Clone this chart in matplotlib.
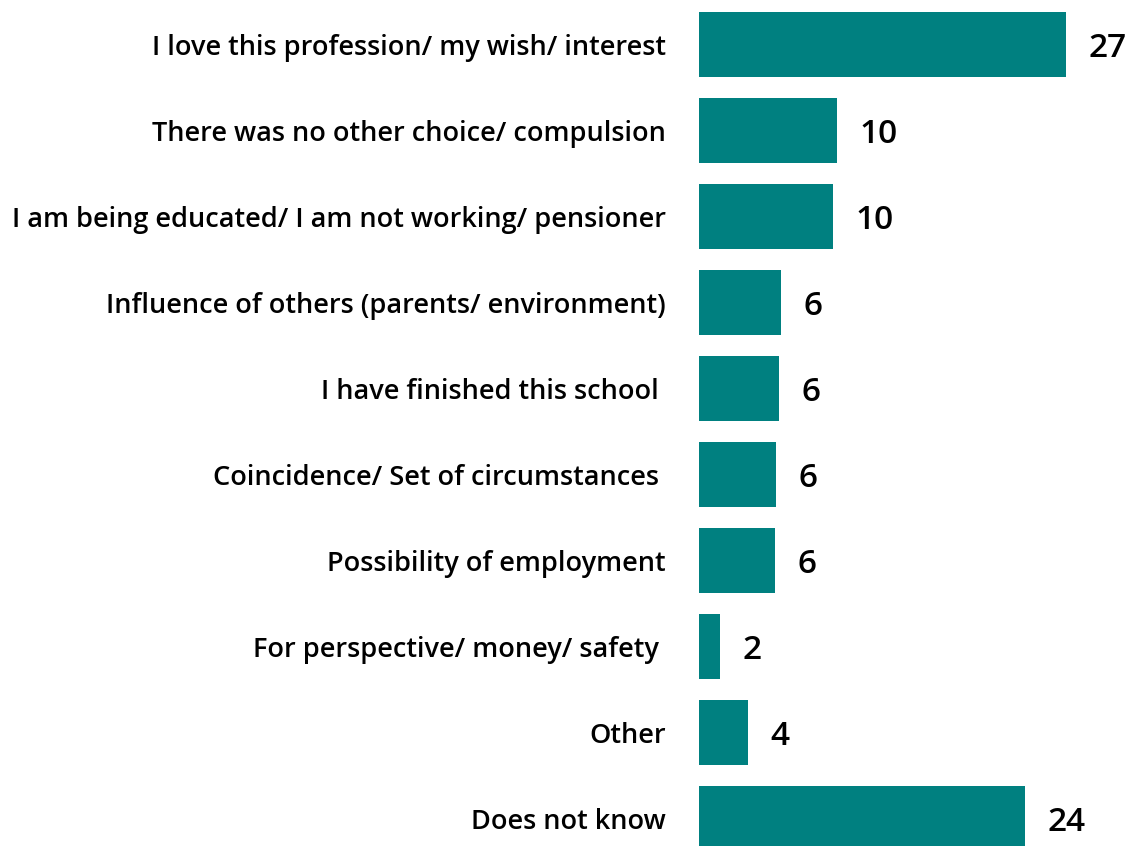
import matplotlib.pyplot as plt

categories = [
    "I love this profession/ my wish/ interest",
    "There was no other choice/ compulsion",
    "I am being educated/ I am not working/ pensioner",
    "Influence of others (parents/ environment)",
    "I have finished this school ",
    "Coincidence/ Set of circumstances ",
    "Possibility of employment",
    "For perspective/ money/ safety ",
    "Other",
    "Does not know",
]
values = [27.0, 10.15, 9.85, 6.03, 5.88, 5.66, 5.59, 1.54, 3.6, 24.0]
labels = ["27", "10", "10", "6", "6", "6", "6", "2", "4", "24"]

plt.rcParams['font.family'] = ['Open Sans', 'DejaVu Sans']

fig = plt.figure(figsize=(11.29, 8.46), dpi=100)
ax = fig.add_axes([699 / 1129, 0, 430 / 1129, 1])

y = range(len(categories))
ax.barh(y, values, height=0.756, color="#008080")

for i, (v, lab) in enumerate(zip(values, labels)):
    ax.annotate(lab, (v, i), xytext=(16, -3), textcoords="offset points",
                va="center", ha="left", fontsize=24, fontweight="semibold")

ax.set_xlim(0, 430 / 13.6)
ax.set_ylim(9.32, -0.517)
ax.set_yticks(list(y))
ax.set_yticklabels(categories, fontsize=19.5, fontweight="semibold")
ax.tick_params(axis="y", length=0, pad=24)
ax.set_xticks([])
for s in ax.spines.values():
    s.set_visible(False)

fig.savefig("out.png", dpi=100)
